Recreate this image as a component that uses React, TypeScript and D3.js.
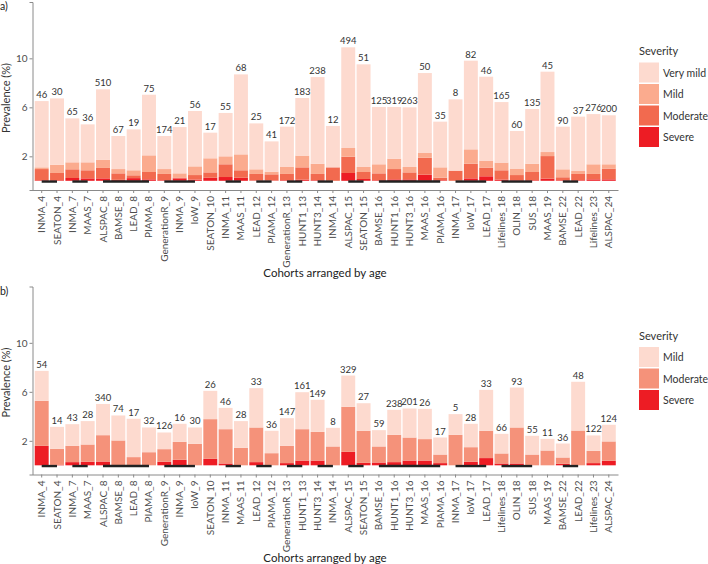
import {useEffect, useRef} from "react";
import * as d3 from "d3";

// cohorts, in the order of the x axis (suffix = age)
const cohorts = [
    "INMA_4", "SEATON_4", "INMA_7", "MAAS_7", "ALSPAC_8", "BAMSE_8", "LEAD_8", "PIAMA_8",
    "GenerationR_9", "INMA_9", "IoW_9", "SEATON_10", "INMA_11", "MAAS_11", "LEAD_12", "PIAMA_12",
    "GenerationR_13", "HUNT1_13", "HUNT3_14", "INMA_14", "ALSPAC_15", "SEATON_15", "BAMSE_16",
    "HUNT1_16", "HUNT3_16", "MAAS_16", "PIAMA_16", "INMA_17", "IoW_17", "LEAD_17", "Lifelines_18",
    "OLIN_18", "SUS_18", "MAAS_19", "BAMSE_22", "LEAD_22", "Lifelines_23", "ALSPAC_24"
];

// panel a) prevalence (%) per severity
const aSevere = [.05, .05, .23, .20, .20, .08, .22, .12, .05, .20, .10, .25, .31, .25, .03, .03, .05, .10, .05, 0,
    .64, .15, .05, .12, .12, .50, .05, 0, .20, .37, .10, .05, .05, .18, .05, .05, .12, .12];
const aModerate = [.91, .59, .71, .66, .85, .53, .23, .60, .51, .07, .37, .44, 1.04, .61, .53, .50, .51, 1.0, .51, 1.10,
    1.33, .57, .56, .84, .57, 1.39, .21, .83, 1.20, .71, .76, .42, .67, 1.84, .24, .51, .44, .88];
const aMild = [.14, .68, .57, .65, .68, .35, .41, 1.36, .40, .34, .71, 1.15, .65, 1.30, .38, .22, .57, .96, .84, 0,
    .71, .41, .74, .85, .44, .38, .84, 0, 1.17, .57, .63, .53, .68, .33, .65, .24, .79, .35];
const aVeryMild = [5.41, 5.41, 3.59, 3.10, 5.74, 2.70, 3.34, 4.95, 2.70, 3.78, 4.52, 2.09, 3.54, 6.53, 3.75, 2.47, 3.29, 4.70, 7.07, 3.38,
    8.22, 8.38, 4.68, 4.22, 4.87, 6.53, 3.73, 5.82, 7.24, 6.85, 4.94, 3.07, 4.46, 6.56, 3.48, 4.44, 4.10, 4.0];
const aCounts = [46, 30, 65, 36, 510, 67, 19, 75, 174, 21, 56, 17, 55, 68, 25, 41, 172, 183, 238, 12,
    494, 51, 125, 319, 263, 50, 35, 8, 82, 46, 165, 60, 135, 45, 90, 37, 276, 200];

// panel b)
const bSevere = [1.59, .03, .26, .29, .31, 0, 0, 0, .29, .45, 0, .53, .15, 0, .26, 0, .18, .39, .39, 0,
    1.10, .20, .23, .26, .39, .39, .18, 0, .29, .59, .15, .15, 0, 0, .12, 0, .18, .37];
const bModerate = [3.68, 1.32, 1.33, 1.41, 2.15, 2.03, .67, 1.07, 1.03, 1.47, 1.76, 3.24, 2.80, 1.43, 2.83, .99, 1.41, 2.56, 2.34, 1.54,
    3.68, 2.62, 1.31, 2.23, 1.88, 1.75, .70, 2.49, 1.19, 2.23, .82, 2.94, .88, 1.21, .52, 2.84, 1.00, 1.58];
const bMild = [2.44, 1.79, 1.77, 1.91, 2.55, 2.04, 3.13, 2.02, 1.36, 1.47, 1.33, 2.31, 1.74, 2.18, 3.21, 1.83, 2.26, 3.02, 2.62, 1.52,
    2.55, 2.25, 1.33, 2.04, 2.37, 2.47, 1.39, 1.69, 1.91, 3.34, 1.60, 3.26, 1.53, .95, 1.14, 3.98, 1.26, 1.36];
const bCounts = [54, 14, 43, 28, 340, 74, 17, 32, 126, 16, 30, 26, 46, 28, 33, 36, 147, 161, 149, 8,
    329, 27, 59, 238, 201, 26, 17, 5, 28, 33, 66, 93, 55, 11, 36, 48, 122, 124];

const yTicks = [2, 6, 10];

const FONT = "Lato, 'Noto Sans', sans-serif";

function drawPanel(svg, top, letter, keys, colors, series, counts) {
    const x = d3.scaleBand()
        .domain(cohorts)
        .range([32.5, 618])
        .paddingInner(0.09)
        .paddingOuter(0.145);

    const y = d3.scaleLinear()
        .domain([-0.75, 14.6])
        .range([top + 188, top]);

    const rows = cohorts.map((c, i) => {
        const r = {cohort: c, total: 0};
        keys.forEach((k, j) => {
            r[k] = series[j][i];
            r.total += series[j][i];
        });
        return r;
    });

    const stack = d3.stack().keys(keys)(rows);
    const color = d3.scaleOrdinal().domain(keys).range(colors);

    const g = svg.append("g");

    // panel letter
    g.append("text")
        .attr("x", 0)
        .attr("y", top + 8)
        .attr("font-size", 10.5)
        .attr("fill", "#222")
        .text(letter);

    // bars
    g.selectAll("g.layer")
        .data(stack)
        .enter()
        .append("g")
        .attr("fill", d => color(d.key))
        .selectAll("rect")
        .data(d => d)
        .enter()
        .append("rect")
        .attr("x", d => x(d.data.cohort))
        .attr("width", x.bandwidth())
        .attr("y", d => y(d[1]))
        .attr("height", d => Math.max(0, y(d[0]) - y(d[1])));

    // sample sizes above the bars
    g.selectAll("text.count")
        .data(rows)
        .enter()
        .append("text")
        .attr("x", d => x(d.cohort) + x.bandwidth() / 2)
        .attr("y", d => y(d.total) - 3)
        .attr("text-anchor", "middle")
        .attr("font-size", 9.5)
        .attr("fill", "#333")
        .text((d, i) => counts[i]);

    // black segments joining cohorts of the same age
    const ages = d3.groups(cohorts, c => c.split("_")[1]).filter(a => a[1].length > 1);
    g.selectAll("line.age")
        .data(ages)
        .enter()
        .append("line")
        .attr("x1", d => x(d[1][0]) + x.bandwidth() / 2)
        .attr("x2", d => x(d[1][d[1].length - 1]) + x.bandwidth() / 2)
        .attr("y1", y(-0.06))
        .attr("y2", y(-0.06))
        .attr("stroke", "#222")
        .attr("stroke-width", 2.4);

    // y axis
    const ya = g.append("g")
        .attr("transform", "translate(32.5,0)")
        .call(d3.axisLeft(y).tickValues(yTicks).tickSize(3).tickPadding(2));
    ya.select(".domain").attr("stroke", "#8a8a8a");
    ya.selectAll(".tick line").attr("stroke", "#8a8a8a");
    ya.selectAll(".tick text").attr("font-size", 10).attr("fill", "#4d4d4d").attr("font-family", FONT);

    // x axis
    const xa = g.append("g")
        .attr("transform", `translate(0,${top + 188})`)
        .call(d3.axisBottom(x).tickSize(3).tickSizeOuter(0));
    xa.select(".domain").attr("stroke", "#8a8a8a");
    xa.selectAll(".tick line").attr("stroke", "#8a8a8a");
    xa.selectAll(".tick text")
        .attr("font-size", 10)
        .attr("fill", "#4d4d4d")
        .attr("font-family", FONT)
        .attr("transform", "rotate(-90)")
        .attr("text-anchor", "end")
        .attr("x", -6)
        .attr("y", 0)
        .attr("dy", "0.35em");

    g.append("text")
        .attr("transform", `translate(10,${top + 96})rotate(-90)`)
        .attr("text-anchor", "middle")
        .attr("font-size", 11)
        .attr("fill", "#333")
        .text("Prevalence (%)");

    g.append("text")
        .attr("x", 325)
        .attr("y", top + 275)
        .attr("text-anchor", "middle")
        .attr("font-size", 11.5)
        .attr("fill", "#222")
        .text("Cohorts arranged by age");

    // legend, top key first
    const lg = g.append("g").attr("transform", `translate(639,${top + 40})`);
    lg.append("text")
        .attr("x", 0)
        .attr("y", 13)
        .attr("font-size", 11)
        .attr("fill", "#333")
        .text("Severity");
    const legendKeys = keys.slice().reverse();
    legendKeys.forEach((k, i) => {
        lg.append("rect")
            .attr("x", 0)
            .attr("y", 20.5 + i * 21.5)
            .attr("width", 20)
            .attr("height", 20)
            .attr("fill", color(k));
        lg.append("text")
            .attr("x", 24)
            .attr("y", 20.5 + i * 21.5 + 14)
            .attr("font-size", 10.5)
            .attr("fill", "#333")
            .text(k);
    });
}

export default function App() {
    const ref = useRef(null);

    useEffect(() => {
        const svg = d3.select(ref.current)
            .append("svg")
            .attr("width", 708)
            .attr("height", 564)
            .attr("font-family", FONT)
            .style("display", "block")
            .style("background", "white");

        drawPanel(svg, 2, "a)",
            ["Severe", "Moderate", "Mild", "Very mild"],
            ["#ed1c24", "#f26a4f", "#fbab8e", "#fddacf"],
            [aSevere, aModerate, aMild, aVeryMild], aCounts);

        drawPanel(svg, 286.5, "b)",
            ["Severe", "Moderate", "Mild"],
            ["#ed1c24", "#f5927a", "#fddacf"],
            [bSevere, bModerate, bMild], bCounts);

        return () => {
            ref.current && ref.current.querySelector("svg")?.remove();
        };
    }, []);

    return <div ref={ref} style={{position: "absolute", left: 0, top: 0, width: 708, height: 564}}></div>;
}
